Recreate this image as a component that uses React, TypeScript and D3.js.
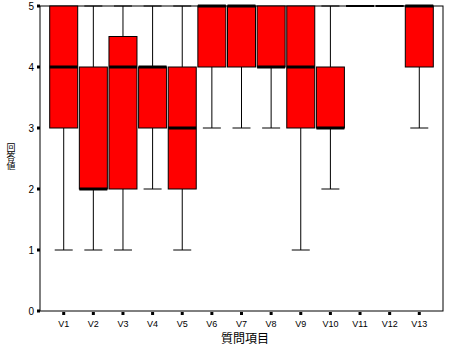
import React from "react";
import * as d3 from "d3";

const categories = ["V1","V2","V3","V4","V5","V6","V7","V8","V9","V10","V11","V12","V13"];
const whiskerLow = [1,1,1,2,1,3,3,3,1,2,5,5,3];
const q1 = [3,2,2,3,2,4,4,4,3,3,5,5,4];
const medians = [4,2,4,4,3,5,5,4,4,3,5,5,5];
const q3 = [5,4,4.5,4,4,5,5,5,5,4,5,5,5];
const whiskerHigh = [5,5,5,5,5,5,5,5,5,5,5,5,5];
const yTicks = [0,1,2,3,4,5];

export default function App() {
  const W = 450, H = 347;
  const left = 40, right = 443, top = 6, bottom = 311;
  const x = d3.scalePoint<string>().domain(categories).range([left, right]).padding(0.8);
  const y = d3.scaleLinear().domain([0, 5]).range([bottom, top]);
  const boxW = 28, capW = 18;
  const font = "Arial, 'Liberation Sans', sans-serif";
  return (
    <svg width={W} height={H} style={{ position: "absolute", left: 0, top: 0, background: "#fff" }}>
      <rect x={left} y={top} width={right - left} height={bottom - top} fill="none" stroke="#000" strokeWidth={1} />
      {categories.map((c, i) => {
        const cx = x(c)!;
        const flat = q1[i] === q3[i];
        return (
          <g key={c}>
            {whiskerLow[i] < q1[i] && (
              <>
                <line x1={cx} x2={cx} y1={y(whiskerLow[i])} y2={y(q1[i])} stroke="#000" />
                <line x1={cx - capW / 2} x2={cx + capW / 2} y1={y(whiskerLow[i])} y2={y(whiskerLow[i])} stroke="#000" />
              </>
            )}
            {whiskerHigh[i] > q3[i] && (
              <>
                <line x1={cx} x2={cx} y1={y(whiskerHigh[i])} y2={y(q3[i])} stroke="#000" />
                <line x1={cx - capW / 2} x2={cx + capW / 2} y1={y(whiskerHigh[i])} y2={y(whiskerHigh[i])} stroke="#000" />
              </>
            )}
            {!flat && (
              <rect x={cx - boxW / 2} y={y(q3[i])} width={boxW} height={y(q1[i]) - y(q3[i])} fill="#ff0000" stroke="#000" strokeWidth={1} />
            )}
            <line x1={cx - boxW / 2} x2={cx + boxW / 2} y1={y(medians[i])} y2={y(medians[i])} stroke="#000" strokeWidth={flat ? 2 : 3} />
          </g>
        );
      })}
      {yTicks.map(t => (
        <g key={t}>
          <rect x={left - 3} y={y(t) - 1.5} width={3} height={3} fill="#000" />
          <text x={left - 6} y={y(t)} dy="0.35em" textAnchor="end" fontSize={10} fontFamily={font}>{t}</text>
        </g>
      ))}
      {categories.map(c => (
        <g key={c}>
          <rect x={x(c)! - 1.5} y={bottom + 1} width={3} height={3} fill="#000" />
          <text x={x(c)!} y={bottom + 16} textAnchor="middle" fontSize={9} fontFamily={font}>{c}</text>
        </g>
      ))}
      <text x={245} y={343} textAnchor="middle" fontSize={12} fontFamily="'Noto Sans CJK JP', sans-serif">質問項目</text>
      <text x={11} y={143} fontSize={9} fontFamily="'Noto Sans CJK JP', sans-serif"
        style={{ writingMode: "vertical-rl" as any, textOrientation: "upright" as any }}>回答値</text>
    </svg>
  );
}
